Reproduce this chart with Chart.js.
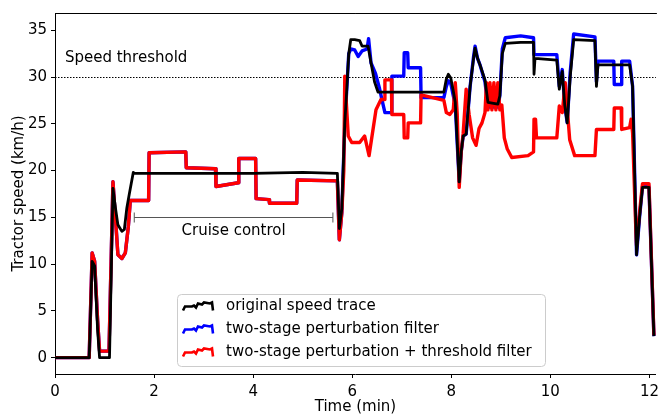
<!DOCTYPE html>
<html>
<head>
<meta charset="utf-8">
<script src="https://cdn.jsdelivr.net/npm/chart.js@4"></script>
<style>
	body { margin: 0; background: #fff; }
	#wrap { width: 664px; height: 416px; }
</style>
</head>
<body>
<div id="wrap"><canvas id="ChartSpeed" width="664" height="416"></canvas></div>
<script>
// --------------
// DATA
// --------------

const xTicks = [0, 2, 4, 6, 8, 10, 12];
const yTicks = [0, 5, 10, 15, 20, 25, 30, 35];

const seriesLabels = [
	"original speed trace",
	"two-stage perturbation filter",
	"two-stage perturbation + threshold filter",
];

// original speed trace
const blackT = [0, 0.69, 0.75, 0.80, 0.86, 0.90, 1.10, 1.17, 1.22, 1.27, 1.35, 1.40, 1.45, 1.50, 1.58, 1.62,
	2.5, 4.0, 5.0, 5.70, 5.74, 5.79, 5.85, 5.89, 5.93, 5.97, 6.05, 6.15, 6.20, 6.32, 6.38, 6.45, 6.52,
	7.85, 7.90, 7.94, 7.99, 8.04, 8.08, 8.16, 8.20, 8.24, 8.30, 8.38, 8.45, 8.48, 8.53, 8.58, 8.68, 8.74,
	8.94, 8.98, 9.03, 9.09, 9.40, 9.66, 9.67, 9.69, 10.13, 10.18, 10.24, 10.29, 10.34, 10.40, 10.47,
	10.90, 10.93, 10.96, 11.60, 11.66, 11.74, 11.80, 11.86, 11.99, 12.09];
const blackV = [0, 0, 10.3, 9.8, 3.0, 0, 0, 18.1, 16.0, 14.2, 13.5, 13.7, 16.0, 17.5, 19.8, 19.7,
	19.7, 19.7, 19.8, 19.7, 13.8, 15.9, 25.1, 28.7, 32.5, 34.0, 34.0, 33.9, 33.3, 33.3, 31.5, 29.5, 28.4,
	28.4, 29.8, 30.3, 29.9, 28.5, 27.3, 18.8, 22.0, 23.7, 23.9, 29.0, 32.0, 33.1, 32.0, 31.3, 29.7, 27.3,
	27.1, 28.0, 32.5, 33.6, 33.7, 33.7, 30.3, 32.0, 31.8, 28.7, 30.6, 27.0, 25.1, 30.0, 34.0,
	33.9, 29.0, 31.3, 31.3, 29.0, 11.0, 15.0, 18.2, 18.2, 2.3];

// two-stage perturbation filter
const blueT = [0, 0.69, 0.75, 0.80, 0.86, 0.90, 1.09, 1.17, 1.22, 1.27, 1.35, 1.42, 1.48, 1.52, 1.89, 1.90,
	2.64, 2.65, 3.24, 3.25, 3.70, 3.71, 4.05, 4.06, 4.32, 4.33, 4.88, 4.89, 5.70, 5.74, 5.79,
	5.85, 5.93, 5.97, 6.05, 6.12, 6.20, 6.30, 6.33, 6.38, 6.47, 6.55, 6.60, 6.66, 6.79, 6.80, 7.04, 7.05,
	7.12, 7.13, 7.38, 7.39, 7.85, 7.90, 7.94, 7.99, 8.04, 8.08, 8.16, 8.20, 8.24, 8.30, 8.38, 8.45, 8.48,
	8.53, 8.58, 8.68, 8.74, 8.94, 8.98, 9.03, 9.09, 9.40, 9.66, 9.67, 10.13, 10.18, 10.24, 10.29, 10.34,
	10.40, 10.47, 10.90, 10.93, 10.96, 11.28, 11.29, 11.43, 11.44, 11.60, 11.66, 11.74, 11.80, 11.86,
	11.99, 12.09];
const blueV = [0, 0, 11.2, 10.3, 4.0, 0.7, 0.7, 18.8, 15.0, 11.0, 10.6, 11.2, 14.0, 16.8, 16.8, 21.9,
	22.0, 20.3, 20.2, 18.3, 18.7, 21.3, 21.3, 17.0, 16.9, 16.5, 16.5, 19.0, 18.9, 12.6, 15.5,
	25.0, 32.5, 33.0, 32.9, 32.2, 32.8, 33.0, 34.1, 31.5, 30.4, 28.8, 27.6, 26.2, 26.2, 30.1, 30.1, 32.6,
	32.6, 31.0, 31.0, 27.8, 27.8, 29.0, 29.6, 29.3, 28.0, 27.0, 18.8, 22.0, 23.7, 23.9, 29.0, 32.2, 33.3,
	32.0, 31.3, 29.5, 26.8, 26.8, 28.0, 33.0, 34.2, 34.4, 34.2, 32.4, 32.4, 29.0, 30.8, 27.0, 25.1,
	30.5, 34.6, 34.3, 29.5, 31.7, 31.7, 29.2, 29.2, 31.7, 31.7, 29.0, 11.0, 15.0, 18.3,
	18.3, 2.3];

// two-stage perturbation + threshold filter
const redT = [0, 0.69, 0.75, 0.80, 0.86, 0.90, 1.09, 1.17, 1.22, 1.27, 1.35, 1.42, 1.48, 1.52, 1.89, 1.90,
	2.64, 2.65, 3.24, 3.25, 3.70, 3.71, 4.05, 4.06, 4.32, 4.33, 4.88, 4.89, 5.70, 5.74, 5.79, 5.83,
	5.85, 5.92, 5.99, 6.15, 6.25, 6.34, 6.48, 6.58, 6.65, 6.66, 6.79, 6.80, 7.04, 7.05, 7.12, 7.13,
	7.38, 7.39, 7.85, 7.90, 7.97, 8.04, 8.08, 8.12, 8.16, 8.20, 8.24, 8.30, 8.36, 8.43, 8.50, 8.56,
	8.62, 8.68, 8.71, 8.74, 8.78, 8.82, 8.86, 8.90, 8.94, 8.98, 9.02, 9.07, 9.13, 9.22, 9.55, 9.66,
	9.67, 9.70, 9.72, 10.13, 10.18, 10.24, 10.30, 10.39, 10.49, 10.90, 10.93, 11.28, 11.29, 11.43,
	11.44, 11.60, 11.63, 11.66, 11.72, 11.74, 11.80, 11.86, 11.99, 12.09];
const redV = [0, 0, 11.2, 10.3, 4.0, 0.7, 0.7, 18.8, 15.0, 11.0, 10.6, 11.2, 14.0, 16.8, 16.8, 21.9,
	22.0, 20.3, 20.2, 18.3, 18.7, 21.3, 21.3, 17.0, 16.9, 16.5, 16.5, 19.0, 18.9, 12.6, 15.5, 20.0,
	30.1, 23.7, 23.0, 23.0, 23.7, 21.6, 26.5, 27.6, 27.6, 29.7, 29.7, 26.0, 26.0, 23.5, 23.5, 25.1,
	25.1, 28.1, 27.5, 26.2, 26.0, 26.5, 29.4, 26.0, 18.2, 22.0, 24.0, 28.7, 26.0, 23.5, 22.7, 24.5,
	25.1, 26.2, 29.4, 26.5, 29.4, 26.5, 29.4, 26.5, 29.4, 26.5, 27.0, 23.5, 22.3, 21.4, 21.6, 22.0,
	25.5, 25.5, 23.5, 23.5, 26.9, 26.2, 29.4, 23.3, 21.6, 21.6, 24.4, 24.4, 26.7, 26.7,
	24.4, 24.6, 25.5, 24.0, 14.5, 12.0, 15.5, 18.6, 18.6, 2.4];

// annotations (data units)
const thresholdSpeed = 30;
const thresholdLabel = "Speed threshold";
const thresholdLabelPos = [0.2, 32.0];
const cruiseLabel = "Cruise control";
const cruiseRange = [1.60, 5.61];
const cruiseY = 15;
const cruiseLabelY = 13.5;

// --------------
// CONFIG CHART
// --------------

const FONT = "'DejaVu Sans', sans-serif";
const seriesColors = ["#000000", "#0000ff", "#ff0000"];
const seriesWidths = [2.8, 3.4, 3.4];

const toPoints = (ts, vs) => ts.map((t, i) => ({ x: t, y: vs[i] }));

// little wiggly handle like the matplotlib legend lines
const handleShape = [[0, 4], [2, 0], [9, 0], [11, -1], [13, 1], [15, -3], [19, -2], [21, -4], [27, -3], [29, -4], [30, 4]];

const overlayPlugin = {
	id: "overlay",
	beforeDatasetsDraw(chart) {
		const { ctx, chartArea, scales } = chart;
		const y30 = scales.y.getPixelForValue(thresholdSpeed);
		ctx.save();
		ctx.strokeStyle = "#000";
		ctx.lineWidth = 1;
		ctx.setLineDash([1.5, 1.5]);
		ctx.beginPath();
		ctx.moveTo(chartArea.left, Math.round(y30) + 0.5);
		ctx.lineTo(chartArea.right, Math.round(y30) + 0.5);
		ctx.stroke();
		ctx.restore();
	},
	afterDatasetsDraw(chart) {
		const { ctx, chartArea, scales } = chart;
		const x = scales.x, y = scales.y;
		ctx.save();

		// top spine
		ctx.strokeStyle = "#000";
		ctx.lineWidth = 1;
		ctx.beginPath();
		ctx.moveTo(chartArea.left, chartArea.top + 0.5);
		ctx.lineTo(chartArea.right + 1, chartArea.top + 0.5);
		ctx.stroke();

		ctx.font = "15px " + FONT;
		ctx.fillStyle = "#000";
		ctx.textBaseline = "middle";
		ctx.textAlign = "left";
		ctx.fillText(thresholdLabel, x.getPixelForValue(thresholdLabelPos[0]), y.getPixelForValue(thresholdLabelPos[1]));

		// cruise control bracket
		const x1 = x.getPixelForValue(cruiseRange[0]);
		const x2 = x.getPixelForValue(cruiseRange[1]);
		const yc = Math.round(y.getPixelForValue(cruiseY)) + 0.5;
		ctx.strokeStyle = "#555";
		ctx.beginPath();
		ctx.moveTo(x1, yc); ctx.lineTo(x2, yc);
		ctx.moveTo(x1, yc - 5); ctx.lineTo(x1, yc + 5);
		ctx.moveTo(x2, yc - 5); ctx.lineTo(x2, yc + 5);
		ctx.stroke();
		ctx.textAlign = "center";
		ctx.fillText(cruiseLabel, (x1 + x2) / 2, y.getPixelForValue(cruiseLabelY));

		// legend box
		const bx = 177.5, by = 294.5, bw = 368, bh = 72, r = 4;
		ctx.beginPath();
		ctx.moveTo(bx + r, by);
		ctx.arcTo(bx + bw, by, bx + bw, by + bh, r);
		ctx.arcTo(bx + bw, by + bh, bx, by + bh, r);
		ctx.arcTo(bx, by + bh, bx, by, r);
		ctx.arcTo(bx, by, bx + bw, by, r);
		ctx.closePath();
		ctx.fillStyle = "rgba(255,255,255,0.8)";
		ctx.fill();
		ctx.strokeStyle = "#cccccc";
		ctx.stroke();

		const rows = [306.5, 329.5, 352.5];
		seriesLabels.forEach((label, i) => {
			ctx.strokeStyle = seriesColors[i];
			ctx.lineWidth = 2.6;
			ctx.beginPath();
			handleShape.forEach(([dx, dy], k) => {
				const px = 183 + dx, py = rows[i] + dy;
				if (k === 0) ctx.moveTo(px, py); else ctx.lineTo(px, py);
			});
			ctx.stroke();
			ctx.fillStyle = "#000";
			ctx.textAlign = "left";
			ctx.fillText(label, 226, rows[i]);
		});
		ctx.restore();
	},
};

const dataSpeed = {
	datasets: [
		{
			label: seriesLabels[0],
			data: toPoints(blackT, blackV),
			borderColor: seriesColors[0],
			borderWidth: seriesWidths[0],
			order: 0,
		},
		{
			label: seriesLabels[1],
			data: toPoints(blueT, blueV),
			borderColor: seriesColors[1],
			borderWidth: seriesWidths[1],
			order: 2,
		},
		{
			label: seriesLabels[2],
			data: toPoints(redT, redV),
			borderColor: seriesColors[2],
			borderWidth: seriesWidths[2],
			order: 1,
		},
	],
};

const configSpeed = {
	type: "line",
	data: dataSpeed,
	options: {
		responsive: false,
		animation: false,
		layout: { padding: { left: 0, top: 9, right: 1, bottom: 0 } },
		elements: {
			point: { radius: 0 },
			line: { tension: 0, borderJoinStyle: "round" },
		},
		plugins: {
			legend: { display: false },
			tooltip: { enabled: false },
		},
		scales: {
			x: {
				type: "linear",
				min: 0,
				max: 12.13,
				afterBuildTicks: (s) => { s.ticks = xTicks.map((v) => ({ value: v })); },
				afterFit: (s) => { s.height = 42; },
				grid: { drawOnChartArea: false, color: "#000", tickLength: 4 },
				border: { color: "#000", width: 1 },
				ticks: { color: "#000", font: { family: FONT, size: 15 }, padding: 5, maxRotation: 0 },
				title: { display: true, text: "Time (min)", color: "#000", font: { family: FONT, size: 15 }, padding: { top: 0, bottom: 0 } },
			},
			y: {
				min: -1.75,
				max: 36.85,
				afterBuildTicks: (s) => { s.ticks = yTicks.map((v) => ({ value: v })); },
				afterFit: (s) => { s.width = 55; },
				grid: { drawOnChartArea: false, color: "#000", tickLength: 4 },
				border: { color: "#000", width: 1 },
				ticks: { color: "#000", font: { family: FONT, size: 15 }, padding: 4 },
				title: { display: true, text: "Tractor speed (km/h)", color: "#000", font: { family: FONT, size: 15 }, padding: { top: 10, bottom: 0 } },
			},
		},
	},
	plugins: [overlayPlugin],
};

const ChartSpeed = new Chart(document.getElementById("ChartSpeed"), configSpeed);
</script>
</body>
</html>
